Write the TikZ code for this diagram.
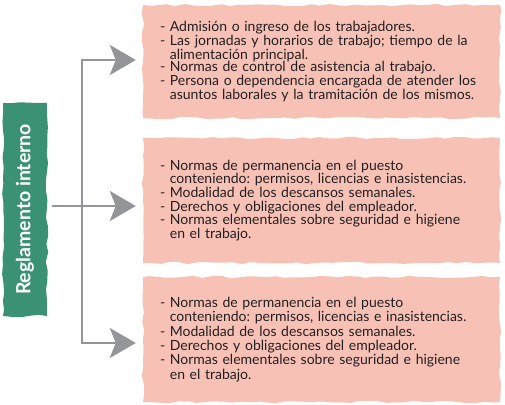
\documentclass[tikz,border=0pt]{standalone}
\usepackage{fontspec}
\setmainfont{Lato}
\frenchspacing
\definecolor{RegGreen}{RGB}{58,145,115}
\definecolor{BoxPink} {RGB}{247,193,182}
\definecolor{LineGray}{RGB}{147,149,152}
\definecolor{TextDark}{RGB}{35,31,32}
\usetikzlibrary{arrows.meta,positioning,calc,decorations.pathmorphing}

\begin{document}
\begin{tikzpicture}[x=1pt,y=-1pt,
    every node/.style={font=\fontsize{14}{13.6}\selectfont,text=TextDark},
    torn/.style={decorate,decoration={random steps,segment length=9pt,amplitude=1.2pt}},
    itembox/.style={torn,fill=BoxPink,align=left,text width=323pt,
      inner xsep=17pt,minimum width=357pt},
    flecha/.style={line width=2.6pt,LineGray,line join=miter,
      -{Stealth[length=26pt,width=30pt,inset=6pt]}}]
  \pgfmathsetseed{7}
  \useasboundingbox (0,0) rectangle (505,404);
  \node[torn,fill=RegGreen,rotate=90,minimum width=213pt,minimum height=44pt,
        font=\fontsize{19.5}{19.5}\selectfont\bfseries,text=white] (regl) at (25,209.5)
    {Reglamento interno};
  \node[itembox,minimum height=113pt,font=\fontsize{14}{12.8}\selectfont] (b1) at (321.5,61.5)
    {- Admisión o ingreso de los trabajadores.\\
     - Las jornadas y horarios de trabajo; tiempo de la\\
     \phantom{- }alimentación principal.\\
     - Normas de control de asistencia al trabajo.\\
     - Persona o dependencia encargada de atender los\\
     \phantom{- }asuntos laborales y la tramitación de los mismos.};
  \node[itembox,minimum height=125pt] (b2) at (321.5,200.5)
    {- Normas de permanencia en el puesto\\
     \phantom{- }conteniendo: permisos, licencias e inasistencias.\\
     - Modalidad de los descansos semanales.\\
     - Derechos y obligaciones del empleador.\\
     - Normas elementales sobre seguridad e higiene\\
     \phantom{- }en el trabajo.};
  \node[itembox,minimum height=125pt,font=\fontsize{14}{14.4}\selectfont] (b3) at (321.5,339.5)
    {- Normas de permanencia en el puesto\\
     \phantom{- }conteniendo: permisos, licencias e inasistencias.\\
     - Modalidad de los descansos semanales.\\
     - Derechos y obligaciones del empleador.\\
     - Normas elementales sobre seguridad e higiene\\
     \phantom{- }en el trabajo.};
  \coordinate (spine) at (82,200);
  \draw[flecha] ([xshift=5pt,yshift=3.5pt]regl.south) -- ([xshift=-7pt,yshift=3.5pt]regl.south -| b2.west);
  \draw[flecha,{Stealth[length=26pt,width=30pt,inset=6pt]}-{Stealth[length=26pt,width=30pt,inset=6pt]}]
    ([xshift=-7pt,yshift=1.5pt]b1.west) -| (spine) |- ([xshift=-7pt,yshift=-3.5pt]b3.west);
\end{tikzpicture}
\end{document}
